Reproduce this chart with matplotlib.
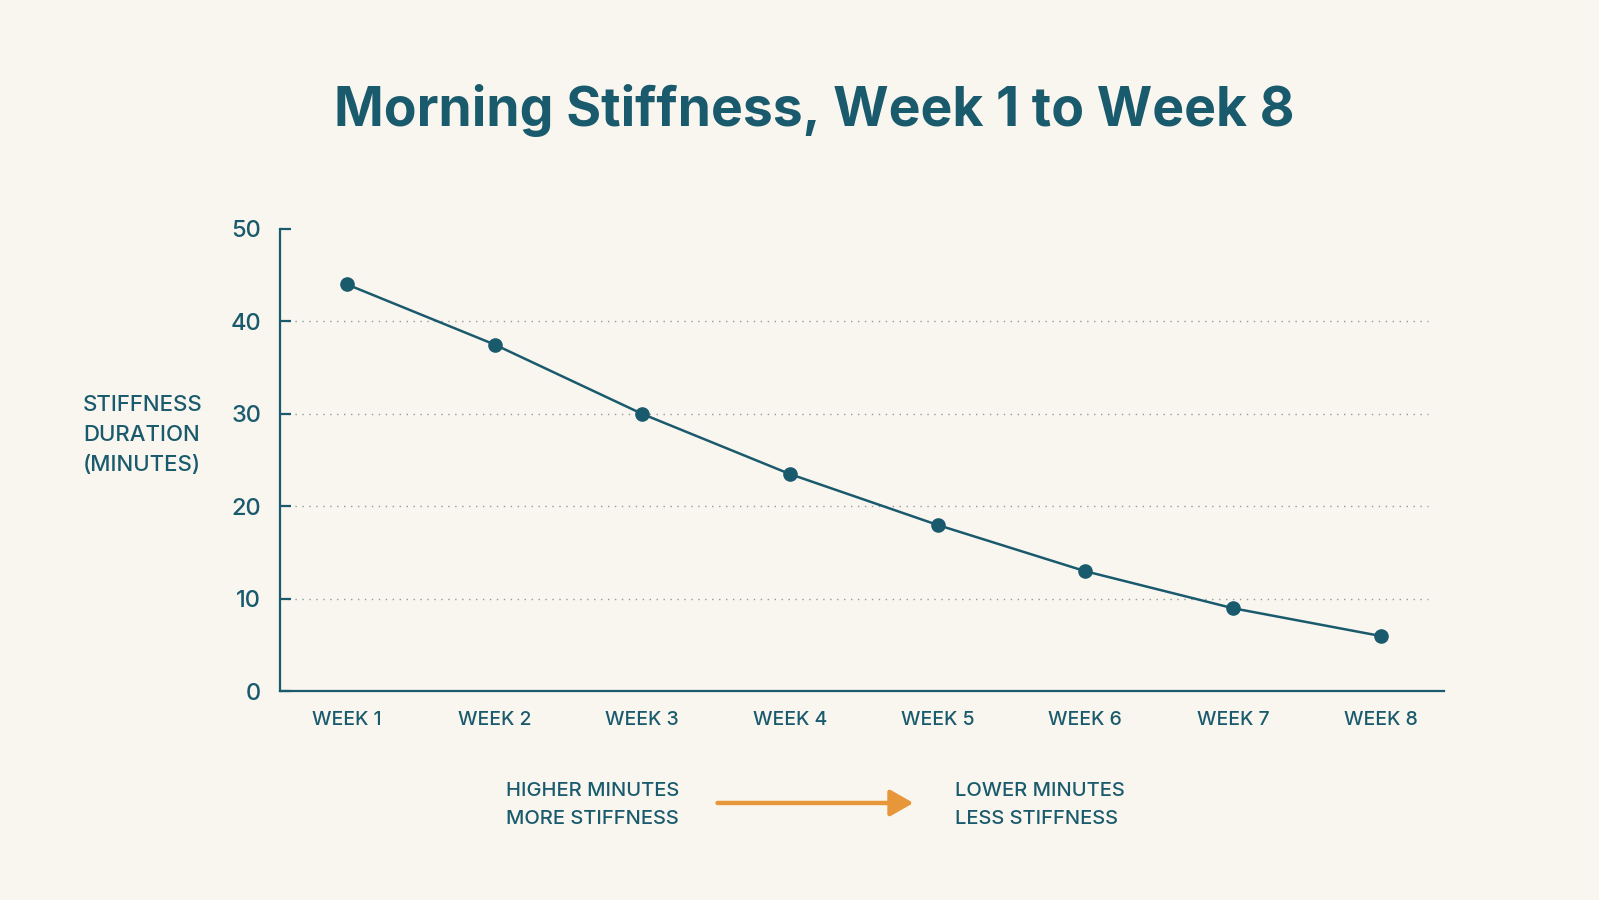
import matplotlib
matplotlib.use("Agg")
import matplotlib.pyplot as plt
from matplotlib.patches import FancyArrowPatch

weeks = ["WEEK 1", "WEEK 2", "WEEK 3", "WEEK 4", "WEEK 5", "WEEK 6", "WEEK 7", "WEEK 8"]
minutes = [44, 37.5, 30, 23.5, 18, 13, 9, 6]
y_ticks = [0, 10, 20, 30, 40, 50]
grid_levels = [10, 20, 30, 40]

title = "Morning Stiffness, Week 1 to Week 8"
y_label = "STIFFNESS\nDURATION\n(MINUTES)"
left_note = "HIGHER MINUTES\nMORE STIFFNESS"
right_note = "LOWER MINUTES\nLESS STIFFNESS"

BG = "#f9f6ef"
TEAL = "#1a5a6d"
ORANGE = "#e8963a"
GRID = "#8f9a9c"

plt.rcParams['font.family'] = ['Inter', 'DejaVu Sans']

fig = plt.figure(figsize=(15.99, 9.0), dpi=100, facecolor=BG)
ax = fig.add_axes([0.1754, 0.2317, 0.7277, 0.5140])
ax.set_facecolor(BG)

x = list(range(len(weeks)))
ax.set_xlim(-0.45, 7.43)
ax.set_ylim(0, 50)

ax.hlines(grid_levels, -0.40, 7.32, colors=GRID, linestyles=(0, (1, 4)), linewidth=1.0, zorder=1)

ax.plot(x, minutes, color=TEAL, linewidth=1.8, marker='o', markersize=9.5,
        markerfacecolor=TEAL, markeredgecolor=TEAL, zorder=3, clip_on=False)

for s in ['top', 'right']:
    ax.spines[s].set_visible(False)
for s in ['left', 'bottom']:
    ax.spines[s].set_color(TEAL)
    ax.spines[s].set_linewidth(1.6)

ax.set_yticks(y_ticks)
ax.set_yticklabels([str(v) for v in y_ticks], fontweight='medium')
ax.tick_params(axis='y', direction='in', length=8, width=1.6, color=TEAL,
               labelcolor=TEAL, labelsize=17, pad=14)
ax.set_xticks(x)
ax.set_xticklabels(weeks, fontweight='medium')
ax.tick_params(axis='x', length=0, labelcolor=TEAL, labelsize=14, pad=14)

fig.text(0.0519, 0.5165, y_label, ha='left', va='center', color=TEAL,
         fontsize=16, linespacing=1.62, fontweight='medium')

fig.text(0.5095, 0.877, title, ha='center', va='center', color=TEAL,
         fontsize=38.5, fontweight='bold')

fig.text(0.3165, 0.1060, left_note, ha='left', va='center', color=TEAL,
         fontsize=14.5, linespacing=1.7, fontweight='medium')
fig.text(0.597, 0.1060, right_note, ha='left', va='center', color=TEAL,
         fontsize=14.5, linespacing=1.7, fontweight='medium')

arrow = FancyArrowPatch((0.447, 0.1078), (0.573, 0.1078), transform=fig.transFigure,
                        arrowstyle='-|>,head_length=14,head_width=8', mutation_scale=1,
                        color=ORANGE, linewidth=3.2)
fig.patches.append(arrow)

fig.savefig("out.png", dpi=100, facecolor=BG)
